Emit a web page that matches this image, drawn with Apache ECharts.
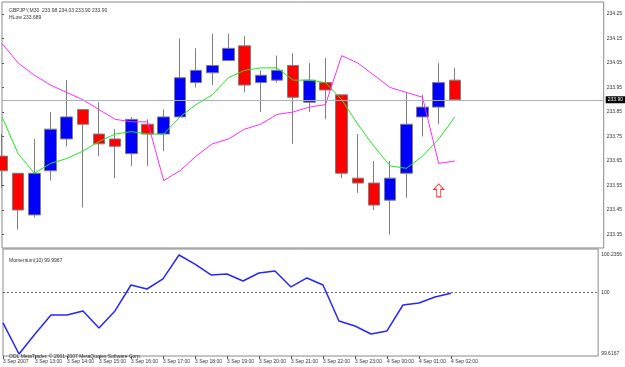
<!DOCTYPE html>
<html><head><meta charset="utf-8">
<script src="https://cdn.jsdelivr.net/npm/echarts@6/dist/echarts.min.js"></script>
<style>html,body{margin:0;padding:0;background:#fff}#c{width:625px;height:367px}</style>
</head><body><div id="c"></div>
<script>
const times = ["3 Sep 2007","3 Sep 12:30","3 Sep 13:00","3 Sep 13:30","3 Sep 14:00","3 Sep 14:30","3 Sep 15:00","3 Sep 15:30","3 Sep 16:00","3 Sep 16:30","3 Sep 17:00","3 Sep 17:30","3 Sep 18:00","3 Sep 18:30","3 Sep 19:00","3 Sep 19:30","3 Sep 20:00","3 Sep 20:30","3 Sep 21:00","3 Sep 21:30","3 Sep 22:00","3 Sep 22:30","3 Sep 23:00","3 Sep 23:30","4 Sep 00:00","4 Sep 00:30","4 Sep 01:00","4 Sep 01:30","4 Sep 02:00"];
const opens  = [233.67,233.60,233.43,233.61,233.74,233.86,233.76,233.74,233.68,233.80,233.76,233.83,233.97,234.01,234.06,234.12,233.97,233.98,234.04,233.89,233.97,233.92,233.58,233.56,233.49,233.60,233.83,233.87,233.98];
const highs  = [233.76,233.60,233.74,233.85,233.98,233.86,233.89,233.78,233.83,233.82,233.86,234.15,234.11,234.17,234.17,234.16,234.02,234.08,234.09,234.05,234.07,233.92,233.76,233.65,233.65,233.93,233.92,234.05,234.03];
const lows   = [233.54,233.37,233.42,233.57,233.71,233.46,233.67,233.58,233.63,233.63,233.69,233.83,233.95,233.96,234.06,233.93,233.85,233.97,233.72,233.85,233.82,233.58,233.52,233.45,233.35,233.50,233.75,233.80,233.90];
const closes = [233.61,233.45,233.60,233.78,233.83,233.80,233.72,233.71,233.82,233.76,233.83,233.99,234.02,234.04,234.11,233.96,234.00,234.02,233.91,233.98,233.94,233.60,233.56,233.47,233.58,233.80,233.87,233.97,233.90];
const maGreen   = [233.83,233.68,233.60,233.64,233.66,233.69,233.73,233.76,233.77,233.76,233.76,233.83,233.88,233.92,233.99,234.02,234.03,234.03,233.98,233.98,233.97,233.90,233.80,233.71,233.63,233.62,233.67,233.74,233.83];
const maMagenta = [234.13,234.05,234.00,233.96,233.93,233.90,233.86,233.82,233.81,233.81,233.57,233.61,233.67,233.72,233.74,233.78,233.80,233.84,233.85,233.87,233.88,234.08,234.05,234.00,233.95,233.93,233.91,233.64,233.65];
const momentum  = [99.811,99.6167,99.742,99.861,99.861,99.886,99.779,99.886,100.048,100.023,100.086,100.2356,100.179,100.111,100.117,100.073,100.123,100.136,100.036,100.092,100.048,99.823,99.792,99.742,99.761,99.923,99.936,99.973,99.9967];
const priceTicks = [233.35,233.45,233.55,233.65,233.75,233.85,233.95,234.05,234.15,234.25];
const momTicks = [99.6167,100,100.2356];
const timeTicks = [0,2,4,6,8,10,12,14,16,18,20,22,24,26,28];
const lastPrice = 233.90;
const momLevel = 100;
const arrowPoint = [27, 233.53];

const FONT = 'Liberation Sans';
const FS = 5;
const XMAX = 37.2;

const candleData = opens.map((o,i)=>[i,o,closes[i],lows[i],highs[i]]);
const greenData = maGreen.map((v,i)=>[i,v]);
const magData = maMagenta.map((v,i)=>[i,v]);
const momData = momentum.map((v,i)=>[i,v]);

const chart = echarts.init(document.getElementById('c'), null, {renderer:'canvas'});
chart.setOption({
  animation:false,
  backgroundColor:'#ffffff',
  textStyle:{fontFamily:FONT},
  title:[
    {text:'GBPJPY,M30  233.98 234.03 233.90 233.90', left:4, top:3, textStyle:{fontSize:FS,fontWeight:'normal',color:'#333',fontFamily:FONT}},
    {text:'HLow 233.689', left:4, top:10, textStyle:{fontSize:FS,fontWeight:'normal',color:'#333',fontFamily:FONT}},
    {text:'Momentum(10) 99.9967', left:4, top:253, textStyle:{fontSize:FS,fontWeight:'normal',color:'#333',fontFamily:FONT}},
    {text:'ODL MetaTrader, © 2001-2007 MetaQuotes Software Corp.', left:4, top:349, textStyle:{fontSize:FS,fontWeight:'normal',color:'#333',fontFamily:FONT}}
  ],
  grid:[
    {left:2, width:603, top:2, height:246, show:true, borderColor:'#8a8a8a', borderWidth:1, backgroundColor:'transparent'},
    {left:2, width:603, top:249, height:107, show:true, borderColor:'#8a8a8a', borderWidth:1, backgroundColor:'transparent'}
  ],
  xAxis:[
    {gridIndex:0, type:'value', min:0, max:XMAX, show:false},
    {gridIndex:1, type:'value', min:0, max:XMAX,
      axisLine:{show:false}, splitLine:{show:false},
      axisTick:{show:true, length:3, customValues:timeTicks, lineStyle:{color:'#555'}},
      axisLabel:{show:true, customValues:timeTicks, formatter:v=>times[v]||'', fontSize:FS, color:'#333', align:'left', margin:3, fontFamily:FONT}
    }
  ],
  yAxis:[
    {gridIndex:0, type:'value', position:'right', min:233.2949, max:234.299, scale:true,
      axisLine:{show:false}, splitLine:{show:false},
      axisTick:{show:true, length:2, customValues:priceTicks, lineStyle:{color:'#555'}},
      axisLabel:{show:true, customValues:priceTicks, formatter:v=>v.toFixed(2), fontSize:FS, color:'#333', margin:3, fontFamily:FONT}
    },
    {gridIndex:1, type:'value', position:'right', min:99.6042, max:100.2731, scale:true,
      axisLine:{show:false}, splitLine:{show:false},
      axisTick:{show:false, customValues:momTicks},
      axisLabel:{show:true, customValues:momTicks, formatter:v=>String(v), fontSize:FS, color:'#333', margin:3, fontFamily:FONT}
    }
  ],
  series:[
    {type:'line', xAxisIndex:0, yAxisIndex:0, data:[], z:1,
      markLine:{silent:true, symbol:['none','none'], animation:false,
        lineStyle:{color:'#a9b0c2', width:1, type:'solid'},
        label:{show:true, position:'end', distance:2, formatter:lastPrice.toFixed(2), color:'#fff', backgroundColor:'#000', fontSize:FS, padding:[1,2], fontFamily:FONT},
        data:[{yAxis:lastPrice}]}
    },
    {type:'candlestick', xAxisIndex:0, yAxisIndex:0, data:candleData, encode:{x:0, y:[1,2,3,4]}, barWidth:12, z:2,
      itemStyle:{color:'#0000ff', color0:'#ff0000', borderColor:'#7f7f7f', borderColor0:'#7f7f7f', borderWidth:1}
    },
    {type:'line', xAxisIndex:0, yAxisIndex:0, data:greenData, showSymbol:false, symbol:'none', z:3,
      lineStyle:{color:'#1ee81e', width:1}},
    {type:'line', xAxisIndex:0, yAxisIndex:0, data:magData, showSymbol:false, symbol:'none', z:3,
      lineStyle:{color:'#ff2cff', width:1}},
    {type:'scatter', xAxisIndex:0, yAxisIndex:0, data:[arrowPoint], z:4,
      symbol:'path://M5,0L10,5L7,5L7,12L3,12L3,5L0,5Z', symbolSize:[10,13],
      itemStyle:{color:'#ffffff', borderColor:'#ff0000', borderWidth:1}},
    {type:'line', xAxisIndex:1, yAxisIndex:1, data:momData, showSymbol:false, symbol:'none', z:3,
      lineStyle:{color:'#2626ff', width:1.5},
      markLine:{silent:true, symbol:['none','none'], animation:false,
        lineStyle:{color:'#666', width:1, type:[2,2]}, label:{show:false},
        data:[{yAxis:momLevel}]}
    }
  ]
});
</script></body></html>
